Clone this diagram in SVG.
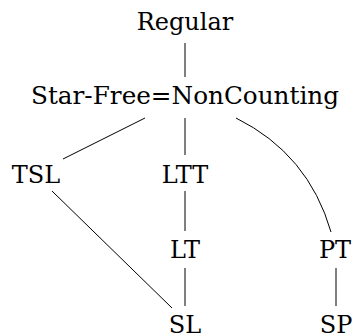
<svg xmlns="http://www.w3.org/2000/svg" width="358" height="336" viewBox="0 0 358 336">
<style>
.c line,.c path{stroke:#000;stroke-width:1;fill:none}
text{font-family:"DejaVu Serif",serif;font-size:24px;fill:#000;text-anchor:middle}
</style>
<rect width="358" height="336" fill="#fff"/>
<g class="c" id="connectors">
<line x1="185" y1="43" x2="185" y2="77"/>
<line x1="145" y1="118" x2="63" y2="159"/>
<line x1="185" y1="118" x2="185" y2="155"/>
<path d="M236,118 Q308.5,154 331,232"/>
<line x1="185" y1="191" x2="185" y2="231"/>
<line x1="52" y1="191" x2="172" y2="308"/>
<line x1="185" y1="268" x2="185" y2="306"/>
<line x1="336" y1="268" x2="336" y2="306"/>
</g>
<g id="regular"><text x="185" y="30">Regular</text></g>
<g id="starfree"><text x="185" y="104" textLength="308" lengthAdjust="spacingAndGlyphs">Star-Free=NonCounting</text></g>
<g id="tsl"><text x="36" y="183">TSL</text></g>
<g id="ltt"><text x="185" y="183">LTT</text></g>
<g id="lt"><text x="185" y="258">LT</text></g>
<g id="pt"><text x="335" y="258">PT</text></g>
<g id="sl"><text x="185" y="333">SL</text></g>
<g id="sp"><text x="336" y="333">SP</text></g>
</svg>
